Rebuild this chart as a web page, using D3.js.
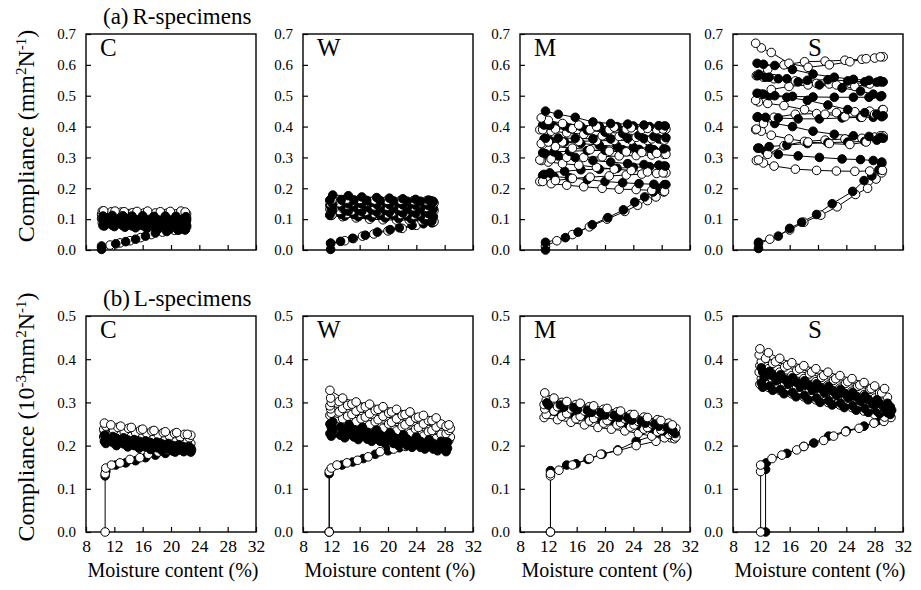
<!DOCTYPE html>
<html><head><meta charset="utf-8">
<script src="https://cdn.jsdelivr.net/npm/d3@7"></script>
<style>
body{margin:0;background:#fff}
svg{display:block}
text{font-family:"Liberation Serif","Times New Roman",serif;fill:#000}
</style>
</head><body>
<svg id="chart" width="921" height="590"></svg>
<script>
// ---------- tick labels ----------
const xTicks = [8, 12, 16, 20, 24, 28, 32];
const yTicksR = [0, 0.1, 0.2, 0.3, 0.4, 0.5, 0.6, 0.7];
const yTicksL = [0, 0.1, 0.2, 0.3, 0.4, 0.5];

// ---------- (a) R-specimens : C ----------
const rC_gridsO = [
  [10.3, 11.6, 13.0, 14.6, 16.2, 17.8, 19.4, 20.9, 22.2],
  [10.5, 12.1, 13.4, 15.2, 16.7, 18.5, 19.9, 21.4, 22.0],
  [10.2, 11.3, 12.7, 14.1, 15.8, 17.3, 18.9, 20.5, 21.8]
];
const rC_gridsF = [
  [10.6, 12.0, 13.5, 15.0, 16.6, 18.2, 19.8, 21.2, 22.0],
  [10.4, 11.7, 13.2, 14.5, 16.0, 17.6, 19.2, 20.7, 22.1],
  [10.8, 12.4, 13.9, 15.5, 17.1, 18.8, 20.3, 21.7, 22.2]
];
const rC_initO_mc = [10.2, 11.4, 12.8, 14.2, 15.7, 17.2, 18.8, 20.5, 22.0];
const rC_initO_c = [0.008, 0.016, 0.023, 0.03, 0.04, 0.05, 0.058, 0.064, 0.07];
const rC_initF_mc = [10.2, 10.2, 12.2, 13.6, 15.0, 16.4, 17.8, 19.4, 21.0, 22.0];
const rC_initF_c = [0.002, 0.013, 0.02, 0.027, 0.035, 0.045, 0.055, 0.06, 0.064, 0.066];
const rC_open = [
  [0.088, 0.086, 0.084, 0.082, 0.081, 0.079, 0.078, 0.076, 0.074],
  [0.089, 0.091, 0.09, 0.092, 0.09, 0.093, 0.091, 0.092, 0.091],
  [0.102, 0.1, 0.099, 0.098, 0.097, 0.096, 0.095, 0.094, 0.093],
  [0.104, 0.106, 0.104, 0.107, 0.105, 0.104, 0.106, 0.105, 0.104],
  [0.114, 0.113, 0.111, 0.11, 0.109, 0.108, 0.108, 0.107, 0.106],
  [0.115, 0.117, 0.115, 0.118, 0.116, 0.115, 0.117, 0.116, 0.115],
  [0.126, 0.124, 0.123, 0.121, 0.12, 0.12, 0.119, 0.118, 0.117],
  [0.127, 0.126, 0.124, 0.125, 0.126, 0.124, 0.125, 0.126, 0.123]
];
const rC_filled = [
  [0.078, 0.076, 0.074, 0.072, 0.07, 0.068, 0.067, 0.066, 0.065],
  [0.079, 0.08, 0.079, 0.078, 0.079, 0.078, 0.077, 0.078, 0.077],
  [0.089, 0.088, 0.087, 0.086, 0.085, 0.084, 0.083, 0.082, 0.08],
  [0.09, 0.091, 0.09, 0.089, 0.09, 0.088, 0.089, 0.088, 0.087],
  [0.099, 0.098, 0.097, 0.096, 0.095, 0.094, 0.093, 0.092, 0.091],
  [0.1, 0.101, 0.1, 0.099, 0.1, 0.098, 0.099, 0.098, 0.097],
  [0.109, 0.108, 0.107, 0.106, 0.105, 0.104, 0.104, 0.103, 0.101],
  [0.11, 0.112, 0.111, 0.11, 0.111, 0.109, 0.11, 0.109, 0.108]
];

// ---------- (a) R-specimens : W ----------
const rW_gridsO = [
  [11.8, 13.6, 15.5, 17.4, 19.3, 21.2, 23.0, 24.8, 26.5],
  [12.1, 14.2, 16.0, 18.1, 19.9, 21.8, 23.6, 25.4, 26.3],
  [11.9, 13.1, 14.9, 16.8, 18.7, 20.6, 22.4, 24.2, 26.0]
];
const rW_gridsF = [
  [12.0, 13.9, 15.8, 17.7, 19.6, 21.5, 23.3, 25.1, 26.2],
  [11.8, 13.4, 15.2, 17.0, 18.9, 20.8, 22.7, 24.6, 26.4],
  [12.2, 14.4, 16.3, 18.4, 20.2, 22.1, 23.9, 25.7, 26.0]
];
const rW_initO_mc = [11.9, 13.9, 15.1, 16.4, 18.0, 20.0, 22.0, 24.0, 26.4];
const rW_initO_c = [0.022, 0.03, 0.037, 0.045, 0.052, 0.062, 0.07, 0.08, 0.09];
const rW_initF_mc = [11.9, 11.9, 13.3, 15.0, 16.8, 18.5, 20.3, 21.6, 23.4, 25.0, 26.2];
const rW_initF_c = [0.002, 0.022, 0.028, 0.038, 0.048, 0.058, 0.066, 0.072, 0.08, 0.085, 0.088];
const rW_open = [
  [0.112, 0.108, 0.104, 0.1, 0.098, 0.097, 0.097, 0.095, 0.092],
  [0.114, 0.118, 0.12, 0.118, 0.117, 0.115, 0.113, 0.112, 0.11],
  [0.13, 0.128, 0.127, 0.125, 0.124, 0.122, 0.12, 0.12, 0.118],
  [0.132, 0.135, 0.137, 0.136, 0.134, 0.133, 0.132, 0.13, 0.128],
  [0.148, 0.146, 0.145, 0.143, 0.142, 0.14, 0.14, 0.138, 0.136],
  [0.15, 0.153, 0.155, 0.154, 0.152, 0.151, 0.15, 0.149, 0.148],
  [0.16, 0.159, 0.158, 0.156, 0.155, 0.154, 0.154, 0.153, 0.152],
  [0.163, 0.165, 0.164, 0.162, 0.161, 0.161, 0.16, 0.159, 0.158]
];
const rW_filled = [
  [0.112, 0.11, 0.108, 0.106, 0.104, 0.102, 0.1, 0.098, 0.094],
  [0.114, 0.116, 0.115, 0.114, 0.113, 0.112, 0.11, 0.109, 0.108],
  [0.128, 0.126, 0.125, 0.123, 0.122, 0.12, 0.119, 0.118, 0.116],
  [0.13, 0.132, 0.131, 0.13, 0.129, 0.128, 0.127, 0.126, 0.125],
  [0.145, 0.143, 0.142, 0.14, 0.139, 0.137, 0.136, 0.135, 0.134],
  [0.148, 0.15, 0.149, 0.148, 0.147, 0.146, 0.145, 0.144, 0.143],
  [0.16, 0.158, 0.157, 0.155, 0.154, 0.153, 0.152, 0.151, 0.15],
  [0.162, 0.163, 0.162, 0.161, 0.16, 0.159, 0.158, 0.158, 0.157],
  [0.178, 0.176, 0.172, 0.17, 0.168, 0.166, 0.164, 0.162, 0.16]
];

// ---------- (a) R-specimens : M ----------
const rM_gridsO = [
  [10.8, 12.4, 14.6, 17.0, 19.6, 22.0, 24.4, 26.6, 28.4],
  [11.2, 13.0, 15.4, 17.9, 20.6, 23.0, 25.2, 27.3, 28.6],
  [11.0, 12.0, 14.0, 16.3, 18.8, 21.3, 23.7, 26.0, 28.2]
];
const rM_gridsF = [
  [11.2, 12.8, 15.0, 17.5, 20.0, 22.5, 24.8, 26.9, 28.6],
  [11.4, 12.2, 14.3, 16.6, 19.2, 21.7, 24.0, 26.3, 28.3],
  [11.6, 13.4, 15.8, 18.3, 20.8, 23.2, 25.5, 27.6, 28.5]
];
const rM_initO_mc = [11.6, 13.2, 15.4, 17.8, 20.3, 22.8, 24.6, 26.0, 27.2, 28.3];
const rM_initO_c = [0.012, 0.03, 0.05, 0.075, 0.1, 0.125, 0.145, 0.16, 0.172, 0.188];
const rM_initF_mc = [11.6, 11.6, 14.4, 16.2, 18.2, 20.4, 22.6, 24.2, 25.6, 26.8, 27.6, 28.4];
const rM_initF_c = [0.0, 0.025, 0.04, 0.058, 0.082, 0.105, 0.13, 0.155, 0.172, 0.188, 0.2, 0.212];
const rM_open = [
  [0.222, 0.215, 0.21, 0.205, 0.2, 0.197, 0.196, 0.193, 0.19],
  [0.222, 0.225, 0.232, 0.236, 0.24, 0.243, 0.246, 0.248, 0.25],
  [0.29, 0.285, 0.28, 0.275, 0.268, 0.262, 0.258, 0.253, 0.25],
  [0.292, 0.295, 0.3, 0.3, 0.302, 0.305, 0.306, 0.308, 0.31],
  [0.342, 0.335, 0.33, 0.325, 0.32, 0.318, 0.316, 0.313, 0.31],
  [0.345, 0.35, 0.35, 0.352, 0.354, 0.355, 0.356, 0.355, 0.356],
  [0.39, 0.385, 0.38, 0.375, 0.37, 0.368, 0.365, 0.36, 0.356],
  [0.39, 0.392, 0.393, 0.39, 0.39, 0.392, 0.391, 0.39, 0.392],
  [0.428, 0.42, 0.41, 0.405, 0.4, 0.398, 0.396, 0.394, 0.392]
];
const rM_filled = [
  [0.242, 0.238, 0.234, 0.228, 0.222, 0.218, 0.215, 0.213, 0.212],
  [0.245, 0.25, 0.255, 0.26, 0.262, 0.265, 0.268, 0.27, 0.272],
  [0.312, 0.305, 0.3, 0.29, 0.285, 0.28, 0.277, 0.275, 0.272],
  [0.315, 0.318, 0.32, 0.322, 0.323, 0.325, 0.326, 0.325, 0.326],
  [0.36, 0.355, 0.35, 0.345, 0.34, 0.336, 0.333, 0.33, 0.328],
  [0.362, 0.363, 0.362, 0.36, 0.36, 0.362, 0.361, 0.36, 0.362],
  [0.405, 0.4, 0.395, 0.388, 0.382, 0.378, 0.372, 0.368, 0.364],
  [0.405, 0.404, 0.402, 0.4, 0.401, 0.4, 0.402, 0.4, 0.401],
  [0.45, 0.44, 0.43, 0.415, 0.41, 0.408, 0.405, 0.403, 0.402]
];

// ---------- (a) R-specimens : S ----------
const rS_gridsO = [
  [11.3, 12.3, 13.8, 16.8, 19.8, 22.6, 25.2, 27.3, 29.1],
  [11.6, 12.9, 15.2, 18.1, 21.0, 23.8, 26.2, 28.0, 29.2],
  [11.2, 12.0, 13.4, 15.9, 18.6, 21.6, 24.5, 26.8, 28.8]
];
const rS_gridsF = [
  [11.5, 12.6, 14.4, 17.2, 20.2, 23.4, 26.0, 27.8, 29.0],
  [11.7, 13.1, 15.6, 18.5, 21.4, 24.2, 26.6, 28.3, 29.2],
  [11.4, 12.3, 13.9, 16.4, 19.3, 22.3, 25.0, 27.2, 28.8]
];
const rS_initO_mc = [11.6, 13.2, 16.0, 18.0, 20.4, 22.7, 25.3, 27.0, 28.2, 29.0];
const rS_initO_c = [0.02, 0.035, 0.065, 0.09, 0.113, 0.14, 0.18, 0.2, 0.23, 0.25];
const rS_initF_mc = [11.6, 11.6, 14.4, 16.0, 17.7, 19.8, 22.0, 24.9, 26.5, 27.6, 28.6, 29.0];
const rS_initF_c = [0.005, 0.025, 0.045, 0.07, 0.09, 0.115, 0.15, 0.19, 0.225, 0.24, 0.26, 0.28];
const rS_open = [
  [0.29, 0.282, 0.272, 0.262, 0.258, 0.256, 0.255, 0.256, 0.258],
  [0.292, 0.31, 0.338, 0.352, 0.356, 0.36, 0.362, 0.366, 0.37],
  [0.39, 0.385, 0.372, 0.36, 0.35, 0.345, 0.342, 0.35, 0.37],
  [0.392, 0.41, 0.43, 0.44, 0.442, 0.445, 0.448, 0.45, 0.455],
  [0.48, 0.475, 0.468, 0.455, 0.44, 0.432, 0.43, 0.44, 0.455],
  [0.485, 0.505, 0.52, 0.53, 0.535, 0.538, 0.54, 0.542, 0.545],
  [0.565, 0.56, 0.555, 0.548, 0.54, 0.535, 0.53, 0.538, 0.545],
  [0.57, 0.585, 0.6, 0.61, 0.612, 0.615, 0.618, 0.622, 0.626],
  [0.67, 0.655, 0.64, 0.605, 0.592, 0.6, 0.61, 0.62, 0.626]
];
const rS_filled = [
  [0.33, 0.32, 0.31, 0.305, 0.3, 0.295, 0.293, 0.29, 0.285],
  [0.33, 0.335, 0.34, 0.345, 0.348, 0.35, 0.352, 0.356, 0.362],
  [0.43, 0.42, 0.41, 0.4, 0.385, 0.375, 0.37, 0.368, 0.365],
  [0.432, 0.43, 0.428, 0.425, 0.425, 0.428, 0.43, 0.43, 0.432],
  [0.505, 0.5, 0.495, 0.485, 0.47, 0.455, 0.445, 0.44, 0.435],
  [0.508, 0.505, 0.5, 0.498, 0.496, 0.495, 0.495, 0.495, 0.497],
  [0.565, 0.56, 0.555, 0.545, 0.535, 0.525, 0.515, 0.505, 0.5],
  [0.568, 0.56, 0.555, 0.55, 0.552, 0.548, 0.545, 0.544, 0.545],
  [0.605, 0.602, 0.598, 0.585, 0.57, 0.56, 0.553, 0.55, 0.548]
];

// ---------- (b) L-specimens : C ----------
const lC_gridsO = [
  [10.5, 11.9, 13.4, 15.0, 16.6, 18.2, 19.8, 21.3, 22.6],
  [10.8, 12.5, 14.0, 15.7, 17.3, 18.9, 20.5, 21.9, 22.8],
  [10.6, 11.5, 12.9, 14.4, 16.0, 17.6, 19.2, 20.8, 22.3]
];
const lC_gridsF = [
  [10.8, 12.3, 13.9, 15.5, 17.1, 18.7, 20.3, 21.8, 22.8],
  [10.6, 11.8, 13.3, 14.8, 16.4, 18.0, 19.6, 21.1, 22.5],
  [11.0, 12.7, 14.3, 16.0, 17.6, 19.3, 20.9, 22.2, 22.9]
];
const lC_initO_mc = [10.7, 10.7, 10.8, 11.6, 12.8, 14.2, 15.6, 16.8, 18.2, 19.6, 21.0, 22.4];
const lC_initO_c = [0.0, 0.135, 0.148, 0.155, 0.16, 0.168, 0.172, 0.18, 0.185, 0.19, 0.19, 0.195];
const lC_initF_mc = [10.7, 10.8, 12.2, 13.6, 15.0, 16.4, 17.8, 19.2, 20.6, 22.0];
const lC_initF_c = [0.13, 0.14, 0.155, 0.16, 0.165, 0.172, 0.178, 0.182, 0.185, 0.19];
const lC_open = [
  [0.22, 0.215, 0.212, 0.208, 0.205, 0.203, 0.2, 0.198, 0.196],
  [0.225, 0.222, 0.22, 0.216, 0.213, 0.21, 0.208, 0.206, 0.205],
  [0.232, 0.23, 0.226, 0.222, 0.22, 0.217, 0.214, 0.212, 0.21],
  [0.238, 0.235, 0.232, 0.23, 0.228, 0.225, 0.222, 0.22, 0.218],
  [0.245, 0.242, 0.24, 0.236, 0.233, 0.23, 0.228, 0.226, 0.224],
  [0.252, 0.248, 0.245, 0.242, 0.238, 0.235, 0.232, 0.23, 0.226]
];
const lC_filled = [
  [0.205, 0.2, 0.197, 0.194, 0.191, 0.189, 0.187, 0.186, 0.185],
  [0.21, 0.207, 0.204, 0.2, 0.197, 0.195, 0.192, 0.19, 0.188],
  [0.215, 0.212, 0.208, 0.205, 0.202, 0.2, 0.197, 0.194, 0.19],
  [0.22, 0.217, 0.213, 0.21, 0.207, 0.204, 0.2, 0.197, 0.194],
  [0.224, 0.221, 0.218, 0.214, 0.211, 0.208, 0.205, 0.202, 0.198]
];

// ---------- (b) L-specimens : W ----------
const lW_gridsO = [
  [11.8, 13.6, 15.5, 17.4, 19.3, 21.2, 23.1, 25.0, 26.8, 28.6],
  [12.0, 14.3, 16.2, 18.2, 20.1, 22.0, 23.9, 25.7, 27.5, 28.8],
  [11.9, 13.1, 14.9, 16.8, 18.6, 20.5, 22.4, 24.3, 26.2, 28.2]
];
const lW_gridsF = [
  [12.0, 13.9, 15.8, 17.7, 19.6, 21.5, 23.4, 25.2, 27.0, 28.2],
  [11.8, 13.3, 15.2, 17.1, 18.9, 20.8, 22.7, 24.6, 26.4, 28.0],
  [12.2, 14.5, 16.4, 18.4, 20.3, 22.2, 24.0, 25.8, 27.5, 28.4]
];
const lW_initO_mc = [11.7, 11.7, 12.0, 12.8, 14.2, 15.7, 17.2, 18.9, 20.8, 22.5, 24.2, 26.0, 27.8];
const lW_initO_c = [0.0, 0.14, 0.148, 0.155, 0.16, 0.166, 0.174, 0.186, 0.192, 0.198, 0.203, 0.206, 0.21];
const lW_initF_mc = [11.7, 11.7, 13.5, 15.0, 16.5, 18.2, 20.0, 21.6, 23.4, 25.2, 27.2];
const lW_initF_c = [0.0, 0.135, 0.155, 0.162, 0.17, 0.18, 0.188, 0.195, 0.2, 0.204, 0.208];
const lW_open = [
  [0.27, 0.262, 0.255, 0.248, 0.24, 0.234, 0.228, 0.222, 0.216, 0.212],
  [0.275, 0.268, 0.262, 0.255, 0.25, 0.244, 0.238, 0.232, 0.226, 0.22],
  [0.285, 0.278, 0.272, 0.266, 0.26, 0.254, 0.248, 0.242, 0.235, 0.228],
  [0.292, 0.286, 0.28, 0.274, 0.268, 0.262, 0.256, 0.25, 0.243, 0.235],
  [0.3, 0.293, 0.287, 0.281, 0.275, 0.27, 0.264, 0.258, 0.25, 0.24],
  [0.31, 0.302, 0.296, 0.29, 0.284, 0.278, 0.272, 0.266, 0.258, 0.245],
  [0.328, 0.31, 0.301, 0.296, 0.29, 0.284, 0.278, 0.27, 0.264, 0.248]
];
const lW_filled = [
  [0.222, 0.218, 0.214, 0.21, 0.205, 0.2, 0.196, 0.192, 0.188, 0.186],
  [0.228, 0.224, 0.22, 0.215, 0.21, 0.205, 0.2, 0.196, 0.192, 0.19],
  [0.235, 0.23, 0.225, 0.22, 0.215, 0.21, 0.205, 0.2, 0.196, 0.194],
  [0.242, 0.236, 0.231, 0.226, 0.22, 0.215, 0.21, 0.205, 0.2, 0.198],
  [0.25, 0.243, 0.237, 0.231, 0.225, 0.22, 0.215, 0.21, 0.205, 0.203],
  [0.255, 0.248, 0.242, 0.236, 0.23, 0.225, 0.22, 0.214, 0.21, 0.208]
];

// ---------- (b) L-specimens : M ----------
const lM_gridsO = [
  [11.4, 13.3, 15.2, 17.1, 19.0, 20.9, 22.8, 24.7, 26.6, 28.4, 29.8],
  [11.7, 13.9, 15.9, 17.8, 19.8, 21.7, 23.6, 25.5, 27.4, 29.0, 30.0],
  [11.5, 12.8, 14.6, 16.5, 18.4, 20.3, 22.2, 24.1, 26.0, 27.9, 29.5]
];
const lM_gridsF = [
  [11.8, 13.7, 15.6, 17.5, 19.4, 21.3, 23.2, 25.1, 27.0, 28.8, 29.6],
  [11.6, 13.1, 15.0, 16.9, 18.8, 20.7, 22.6, 24.5, 26.4, 28.2, 29.9],
  [12.0, 14.2, 16.1, 18.1, 20.0, 21.9, 23.8, 25.7, 27.6, 29.2, 29.8]
];
const lM_initO_mc = [12.3, 12.3, 12.3, 13.5, 15.4, 17.8, 19.4, 21.8, 24.4, 27.2, 29.3];
const lM_initO_c = [0.0, 0.13, 0.135, 0.143, 0.155, 0.17, 0.18, 0.188, 0.2, 0.21, 0.218];
const lM_initF_mc = [12.3, 12.3, 14.6, 15.9, 17.6, 19.6, 21.8, 24.4, 27.2, 29.4];
const lM_initF_c = [0.0, 0.142, 0.155, 0.158, 0.168, 0.18, 0.19, 0.21, 0.225, 0.235];
const lM_open = [
  [0.265, 0.26, 0.254, 0.248, 0.242, 0.238, 0.234, 0.228, 0.222, 0.218, 0.216],
  [0.272, 0.268, 0.262, 0.257, 0.252, 0.248, 0.243, 0.238, 0.232, 0.226, 0.22],
  [0.285, 0.28, 0.274, 0.268, 0.263, 0.258, 0.253, 0.248, 0.242, 0.236, 0.23],
  [0.295, 0.29, 0.285, 0.28, 0.274, 0.268, 0.262, 0.256, 0.25, 0.244, 0.235],
  [0.305, 0.3, 0.295, 0.29, 0.284, 0.278, 0.272, 0.266, 0.26, 0.252, 0.24],
  [0.322, 0.31, 0.302, 0.298, 0.292, 0.286, 0.28, 0.272, 0.265, 0.258, 0.248]
];
const lM_filled = [
  [0.284, 0.279, 0.274, 0.268, 0.262, 0.256, 0.25, 0.244, 0.237, 0.23, 0.224],
  [0.289, 0.284, 0.278, 0.272, 0.266, 0.26, 0.254, 0.248, 0.241, 0.234, 0.228],
  [0.294, 0.289, 0.283, 0.277, 0.271, 0.265, 0.259, 0.252, 0.245, 0.238, 0.231],
  [0.299, 0.294, 0.288, 0.282, 0.276, 0.27, 0.264, 0.257, 0.25, 0.242, 0.234]
];

// ---------- (b) L-specimens : S ----------
const lS_gridsO = [
  [11.8, 13.0, 14.6, 16.3, 18.0, 19.7, 21.4, 23.1, 24.8, 26.5, 28.0, 29.4],
  [12.0, 13.6, 15.3, 17.0, 18.8, 20.5, 22.2, 23.9, 25.6, 27.3, 28.7, 29.8],
  [11.7, 12.6, 14.0, 15.7, 17.4, 19.1, 20.8, 22.5, 24.2, 25.9, 27.5, 29.0]
];
const lS_gridsF = [
  [12.2, 13.6, 15.2, 16.9, 18.6, 20.3, 22.0, 23.7, 25.4, 27.1, 28.7, 30.2],
  [12.0, 13.2, 14.7, 16.4, 18.1, 19.8, 21.5, 23.2, 24.9, 26.6, 28.3, 29.8],
  [12.4, 14.1, 15.8, 17.5, 19.2, 20.9, 22.6, 24.3, 26.0, 27.7, 29.3, 30.4]
];
const lS_initO_mc = [11.9, 11.9, 11.9, 13.5, 14.9, 17.0, 18.0, 20.8, 22.2, 23.9, 25.8, 27.9, 29.3, 30.3];
const lS_initO_c = [0.0, 0.14, 0.155, 0.17, 0.178, 0.19, 0.198, 0.212, 0.222, 0.232, 0.24, 0.252, 0.256, 0.265];
const lS_initF_mc = [12.6, 12.6, 12.7, 15.6, 18.0, 19.4, 21.5, 24.0, 26.5, 28.5, 30.0];
const lS_initF_c = [0.0, 0.145, 0.16, 0.182, 0.198, 0.206, 0.222, 0.234, 0.245, 0.258, 0.27];
const lS_open = [
  [0.342, 0.335, 0.328, 0.32, 0.313, 0.306, 0.3, 0.294, 0.288, 0.28, 0.272, 0.266],
  [0.355, 0.348, 0.342, 0.335, 0.328, 0.32, 0.314, 0.308, 0.3, 0.293, 0.285, 0.278],
  [0.37, 0.363, 0.356, 0.349, 0.342, 0.335, 0.328, 0.32, 0.312, 0.305, 0.298, 0.29],
  [0.385, 0.378, 0.37, 0.362, 0.355, 0.348, 0.34, 0.333, 0.326, 0.318, 0.31, 0.302],
  [0.395, 0.39, 0.382, 0.374, 0.366, 0.358, 0.351, 0.344, 0.337, 0.33, 0.322, 0.312],
  [0.41, 0.402, 0.394, 0.386, 0.378, 0.37, 0.362, 0.355, 0.348, 0.34, 0.332, 0.322],
  [0.424, 0.415, 0.402, 0.392, 0.385, 0.378, 0.37, 0.362, 0.355, 0.346, 0.338, 0.332]
];
const lS_filled = [
  [0.335, 0.328, 0.32, 0.313, 0.306, 0.3, 0.294, 0.288, 0.282, 0.277, 0.274, 0.272],
  [0.345, 0.338, 0.33, 0.323, 0.316, 0.31, 0.304, 0.298, 0.292, 0.286, 0.28, 0.276],
  [0.358, 0.35, 0.342, 0.335, 0.328, 0.322, 0.316, 0.31, 0.303, 0.296, 0.288, 0.282],
  [0.37, 0.362, 0.354, 0.347, 0.34, 0.333, 0.327, 0.321, 0.314, 0.307, 0.298, 0.29],
  [0.38, 0.372, 0.364, 0.357, 0.35, 0.343, 0.337, 0.33, 0.323, 0.315, 0.306, 0.298]
];

// ---------- assemble ----------
// each point: [moisture, compliance, pass number, fraction of the test sequence]
function buildSeries(initMC, initC, grids, passes) {
  const n = passes.length;
  const pts = initMC.map((m, i) => [m, initC[i], 0, 0]);
  passes.forEach((vals, k) => {
    const grid = grids[k % grids.length];
    const p = grid.map((m, i) => [m, vals[i], k + 1, (k + 1) / n]);
    if (k % 2 === 0) p.reverse();   // drying pass: wet -> dry
    pts.push(...p);
  });
  return pts;
}

const rowR = [
  {name: "C", open: buildSeries(rC_initO_mc, rC_initO_c, rC_gridsO, rC_open), filled: buildSeries(rC_initF_mc, rC_initF_c, rC_gridsF, rC_filled)},
  {name: "W", open: buildSeries(rW_initO_mc, rW_initO_c, rW_gridsO, rW_open), filled: buildSeries(rW_initF_mc, rW_initF_c, rW_gridsF, rW_filled)},
  {name: "M", open: buildSeries(rM_initO_mc, rM_initO_c, rM_gridsO, rM_open), filled: buildSeries(rM_initF_mc, rM_initF_c, rM_gridsF, rM_filled)},
  {name: "S", open: buildSeries(rS_initO_mc, rS_initO_c, rS_gridsO, rS_open), filled: buildSeries(rS_initF_mc, rS_initF_c, rS_gridsF, rS_filled)}
];
const rowL = [
  {name: "C", open: buildSeries(lC_initO_mc, lC_initO_c, lC_gridsO, lC_open), filled: buildSeries(lC_initF_mc, lC_initF_c, lC_gridsF, lC_filled)},
  {name: "W", open: buildSeries(lW_initO_mc, lW_initO_c, lW_gridsO, lW_open), filled: buildSeries(lW_initF_mc, lW_initF_c, lW_gridsF, lW_filled)},
  {name: "M", open: buildSeries(lM_initO_mc, lM_initO_c, lM_gridsO, lM_open), filled: buildSeries(lM_initF_mc, lM_initF_c, lM_gridsF, lM_filled)},
  {name: "S", open: buildSeries(lS_initO_mc, lS_initO_c, lS_gridsO, lS_open), filled: buildSeries(lS_initF_mc, lS_initF_c, lS_gridsF, lS_filled)}
];

// ---------- layout ----------
const svg = d3.select("#chart");
const panelLefts = [86, 303, 520, 733];
const panelW = 170;
const rows = [
  {top: 34, h: 216, ymax: 0.7, ticks: yTicksR, data: rowR, showX: false, openFirst: true, sortIdx: 2},
  {top: 316, h: 216, ymax: 0.5, ticks: yTicksL, data: rowL, showX: true, openFirst: false, sortIdx: 3}
];

rows.forEach(row => {
  row.data.forEach((pd, i) => {
    const left = panelLefts[i];
    const x = d3.scaleLinear().domain([8, 32]).range([left, left + panelW]);
    const y = d3.scaleLinear().domain([0, row.ymax]).range([row.top + row.h, row.top]);
    const g = svg.append("g");

    const ya = g.append("g").attr("transform", `translate(${left},0)`)
      .call(d3.axisLeft(y).tickValues(row.ticks).tickFormat(d3.format(".1f")).tickSizeInner(-5).tickSizeOuter(0).tickPadding(10));
    ya.select(".domain").remove();
    ya.selectAll("text").attr("font-size", 15).attr("font-family", "Liberation Serif, serif");
    ya.selectAll("line").attr("stroke-width", 1.2);

    const xa = g.append("g").attr("transform", `translate(0,${row.top + row.h})`)
      .call(d3.axisBottom(x).tickValues(xTicks).tickFormat(row.showX ? d3.format("d") : () => "").tickSizeInner(-5).tickSizeOuter(0).tickPadding(8));
    xa.select(".domain").remove();
    xa.selectAll("text").attr("font-size", 17.5).attr("font-family", "Liberation Serif, serif");
    xa.selectAll("line").attr("stroke-width", 1.2);

    g.append("rect").attr("x", left).attr("y", row.top).attr("width", panelW).attr("height", row.h)
      .attr("fill", "none").attr("stroke", "#000").attr("stroke-width", 1.4);

    const lx = pd.name === "S" ? left + 75 : left + 14;
    g.append("text").attr("x", lx).attr("y", row.top + 22).attr("font-size", 25).text(pd.name);

    const line = d3.line().x(d => x(d[0])).y(d => y(d[1]));
    const order = row.openFirst ? ["open", "filled"] : ["filled", "open"];
    order.forEach(key => {
      g.append("path").datum(pd[key]).attr("d", line)
        .attr("fill", "none").attr("stroke", "#000").attr("stroke-width", 1);
    });
    // circles drawn in test order, interleaving the two specimens
    const marks = [];
    order.forEach((key, oi) => pd[key].forEach(d => marks.push({d, key, oi})));
    marks.sort((a, b) => (a.d[row.sortIdx] - b.d[row.sortIdx]) || (a.oi - b.oi));
    g.append("g").selectAll("circle").data(marks).join("circle")
      .attr("cx", m => x(m.d[0])).attr("cy", m => y(m.d[1])).attr("r", 4.3)
      .attr("fill", m => m.key === "open" ? "#fff" : "#000")
      .attr("stroke", "#000").attr("stroke-width", 1);

    if (row.showX) {
      g.append("text").attr("x", left + panelW / 2 + 2).attr("y", 577).attr("text-anchor", "middle")
        .attr("font-size", 20).text("Moisture content (%)");
    }
  });
});

// titles
function title(yPos, a, b) {
  const t = svg.append("text").attr("x", 103).attr("y", yPos).attr("font-size", 23);
  t.append("tspan").text(a);
  t.append("tspan").attr("dx", 4).text(b);
}
title(24, "(a)", "R-specimens");
title(306, "(b)", "L-specimens");

// y-axis titles
function yTitle(cy, parts) {
  const t = svg.append("text").attr("transform", `translate(34,${cy}) rotate(-90)`)
    .attr("text-anchor", "middle").attr("font-size", 24);
  parts.forEach(p => {
    const ts = t.append("tspan").text(p[0]);
    if (p[1]) ts.attr("baseline-shift", "super").attr("font-size", 15);
  });
}
yTitle(136, [["Compliance (mm"], ["2", true], ["N"], ["-1", true], [")"]]);
yTitle(417, [["Compliance (10"], ["-3", true], ["mm"], ["2", true], ["N"], ["-1", true], [")"]]);
</script>
</body></html>
